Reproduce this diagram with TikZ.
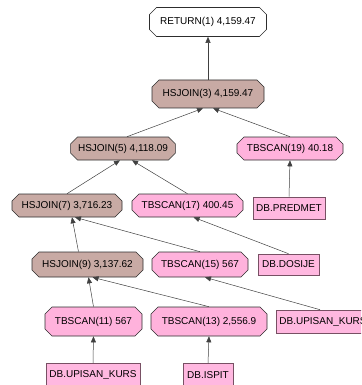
\documentclass[tikz,border=0pt]{standalone}
\usepackage{fontspec}
\setmainfont{Liberation Sans}
\usetikzlibrary{shapes.misc,arrows.meta}

\definecolor{joinc}{RGB}{200,170,164}
\definecolor{scanc}{RGB}{255,178,220}
\definecolor{tablac}{RGB}{255,184,224}
\definecolor{borde}{RGB}{45,45,45}
\definecolor{bordetabla}{RGB}{120,80,100}

\begin{document}
\begin{tikzpicture}[x=1pt, y=1pt,
    font=\fontsize{10}{12}\selectfont,
    op/.style={chamfered rectangle, chamfered rectangle xsep=3.5pt,
        chamfered rectangle ysep=3.5pt, draw=borde, line width=0.6pt,
        inner xsep=4pt, inner ysep=2pt},
    ret/.style={op, fill=white},
    hjoin/.style={op, fill=joinc},
    scan/.style={op, fill=scanc},
    tabla/.style={rectangle, draw=bordetabla, fill=tablac, line width=0.6pt,
        inner xsep=3pt, inner ysep=2pt},
    flecha/.style={draw=black!75, line width=0.5pt, -{Triangle[width=5pt,length=6pt]}}]

    \useasboundingbox (0,0) rectangle (361,-385);
    \clip (0,0) rectangle (361,-385);

    % Operadores
    \node[ret,   minimum width=117, minimum height=29] (r1)  at (208,-22)    {RETURN(1) 4,159.47};
    \node[hjoin, minimum width=112, minimum height=28] (h3)  at (208,-94)    {HSJOIN(3) 4,159.47};
    \node[hjoin, minimum width=104, minimum height=23] (h5)  at (123,-148.5) {HSJOIN(5) 4,118.09};
    \node[scan,  minimum width=106, minimum height=23] (t19) at (290,-148.5) {TBSCAN(19) 40.18};
    \node[hjoin, minimum width=110, minimum height=23] (h7)  at (67,-205.5)  {HSJOIN(7) 3,716.23};
    \node[scan,  minimum width=111, minimum height=23] (t17) at (187.5,-205.5) {TBSCAN(17) 400.45};
    \node[hjoin, minimum width=111, minimum height=25] (h9)  at (87.5,-264.5) {HSJOIN(9) 3,137.62};
    \node[scan,  minimum width=96,  minimum height=25] (t15) at (200,-264.5) {TBSCAN(15) 567};
    \node[scan,  minimum width=97,  minimum height=29] (t11) at (93.5,-321.5) {TBSCAN(11) 567};
    \node[scan,  minimum width=116, minimum height=29] (t13) at (209,-321.5) {TBSCAN(13) 2,556.9};

    % Tablas
    \node[tabla, minimum width=72, minimum height=22] (pred) at (289,-208)   {DB.PREDMET};
    \node[tabla, minimum width=61, minimum height=21] (dos)  at (288.5,-264.5) {DB.DOSIJE};
    \node[tabla, minimum width=94, minimum height=23] (ukr)  at (323,-321.5) {DB.UPISAN\_KURS};
    \node[tabla, minimum width=94, minimum height=23] (uk)   at (93,-375)    {DB.UPISAN\_KURS};
    \node[tabla, minimum width=50, minimum height=23] (isp)  at (208,-375)   {DB.ISPIT};

    % Flechas hijo -> padre
    \foreach \a/\da/\b/\db in {h3/0/r1/0, h5/4/h3/-5, t19/0/h3/5,
        h7/0/h5/-3, t17/0/h5/9, pred/0/t19/0,
        h9/-9/h7/5, t15/0/h7/8, dos/0/t17/6,
        t11/0/h9/1, t13/0/h9/5, ukr/-3/t15/5,
        uk/0/t11/0, isp/0/t13/0} {
        \draw[flecha] ([xshift=\da]\a.north) -- ([xshift=\db]\b.south);
    }
\end{tikzpicture}
\end{document}
